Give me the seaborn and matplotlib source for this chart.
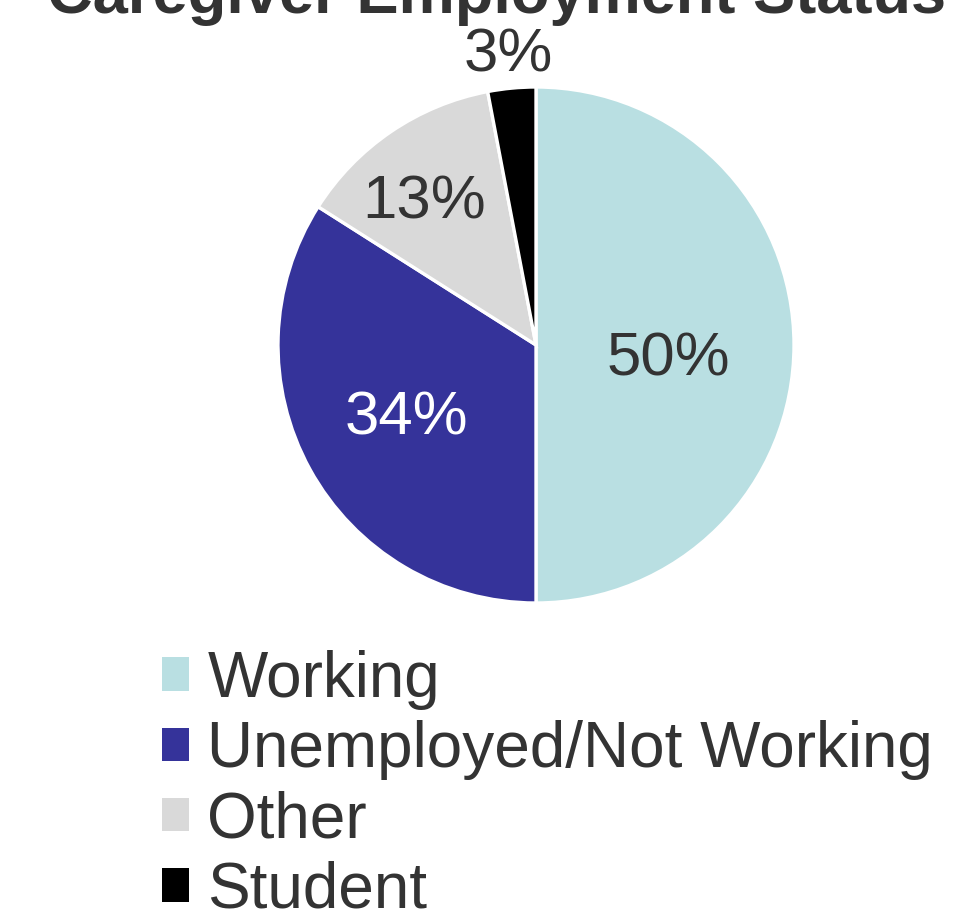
import matplotlib
matplotlib.use("Agg")
import matplotlib.pyplot as plt
import numpy as np
import seaborn as sns

sns.set_theme(style="white")
plt.rcParams["font.family"] = ["Liberation Sans", "DejaVu Sans"]

# Caregiver employment status shares (percent)
categories = ["Working", "Unemployed/Not Working", "Other", "Student"]
shares = [50, 34, 13, 3]
colors = ["#B9DFE2", "#35339A", "#D9D9D9", "#000000"]
label_colors = ["#333333", "#FFFFFF", "#333333", "#333333"]
# per-label placement: distance from centre and angular nudge (degrees)
label_radius = [0.515, 0.58, 0.70, 1.125]
label_nudge = [-6.5, 1.0, 4.0, 0.0]

TEXT = "#333333"
W, H = 960, 909
fig = plt.figure(figsize=(W / 100, H / 100), dpi=100)
fig.patch.set_facecolor("white")

# pie centred at (536, 345) px with 258 px radius
cx, cy, r = 536, 345, 258
ax = fig.add_axes([(cx - r) / W, (H - cy - r) / H, 2 * r / W, 2 * r / H])
wedges, _ = ax.pie(
    shares,
    colors=colors,
    startangle=90,
    counterclock=False,
    wedgeprops=dict(edgecolor="white", linewidth=2.4),
)
ax.set_xlim(-1, 1)
ax.set_ylim(-1, 1)
ax.set_aspect("equal")
ax.axis("off")

for w, val, col, rad, nudge in zip(wedges, shares, label_colors, label_radius, label_nudge):
    mid = np.deg2rad((w.theta1 + w.theta2) / 2 + nudge)
    ax.text(rad * np.cos(mid), rad * np.sin(mid), f"{val}%",
            ha="center", va="center", fontsize=44.5, color=col, clip_on=False)

fig.text(497 / W, 1 - 13 / H, "Caregiver Employment Status",
         ha="center", va="baseline", fontsize=45.5, fontweight="bold", color=TEXT)

leg = fig.legend(
    wedges, categories,
    loc="upper left", bbox_to_anchor=(162 / W, 1 - 650 / H),
    frameon=False, fontsize=46, labelcolor=TEXT,
    handlelength=0.43, handleheight=0.43, handletextpad=0.28,
    labelspacing=0.16, borderpad=0.0, borderaxespad=0.0,
)
for h in leg.legend_handles:
    h.set_edgecolor("none")

fig.savefig("out.png", dpi=100)
